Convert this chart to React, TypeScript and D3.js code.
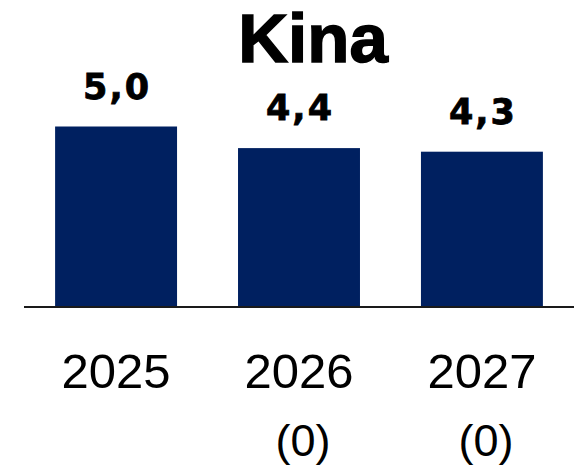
import React from "react";
import * as d3 from "d3";

const title = "Kina";
const categories = ["2025", "2026", "2027"];
const values = [5.0, 4.4, 4.3];
const subLabels = ["", "(0)", "(0)"];

const W = 585;
const H = 466;

export default function App() {
  const x = d3
    .scaleBand<string>()
    .domain(categories)
    .range([24, 574])
    .paddingInner(1 / 3)
    .paddingOuter(0.17);
  const y = d3.scaleLinear().domain([0, 5]).range([306.5, 126.5]);
  const fmt = (v: number) => d3.format(".1f")(v).replace(".", ",");

  return (
    <svg
      width={W}
      height={H}
      style={{ position: "absolute", left: 0, top: 0, background: "#fff" }}
    >
      <text
        x={313}
        y={62}
        textAnchor="middle"
        fontFamily="'Liberation Sans', Arial, sans-serif"
        fontWeight={700}
        fontSize={69}
        stroke="#000"
        strokeWidth={1.5}
        fill="#000"
      >
        {title}
      </text>
      {categories.map((c, i) => {
        const bx = x(c)!;
        const bw = x.bandwidth();
        const cx = bx + bw / 2;
        return (
          <g key={c}>
            <rect
              x={bx}
              y={y(values[i])}
              width={bw}
              height={y(0) - y(values[i])}
              fill="#002060"
            />
            <text
              x={cx + 1}
              y={y(values[i]) - 28}
              textAnchor="middle"
              fontFamily="'DejaVu Sans', sans-serif"
              fontWeight={700}
              fontSize={35}
              letterSpacing={2}
              stroke="#000"
              strokeWidth={0.8}
              fill="#000"
            >
              {fmt(values[i])}
            </text>
            <text
              x={cx}
              y={388}
              textAnchor="middle"
              fontFamily="'Liberation Sans', Arial, sans-serif"
              fontSize={49}
              fill="#000"
            >
              {c}
            </text>
            {subLabels[i] && (
              <text
                x={cx + 4}
                y={456}
                textAnchor="middle"
                fontFamily="'Liberation Sans', Arial, sans-serif"
                fontSize={45}
                fill="#000"
              >
                {subLabels[i]}
              </text>
            )}
          </g>
        );
      })}
      <line x1={24} x2={574} y1={y(0) + 0.5} y2={y(0) + 0.5} stroke="#1a1a1a" strokeWidth={2} />
    </svg>
  );
}
